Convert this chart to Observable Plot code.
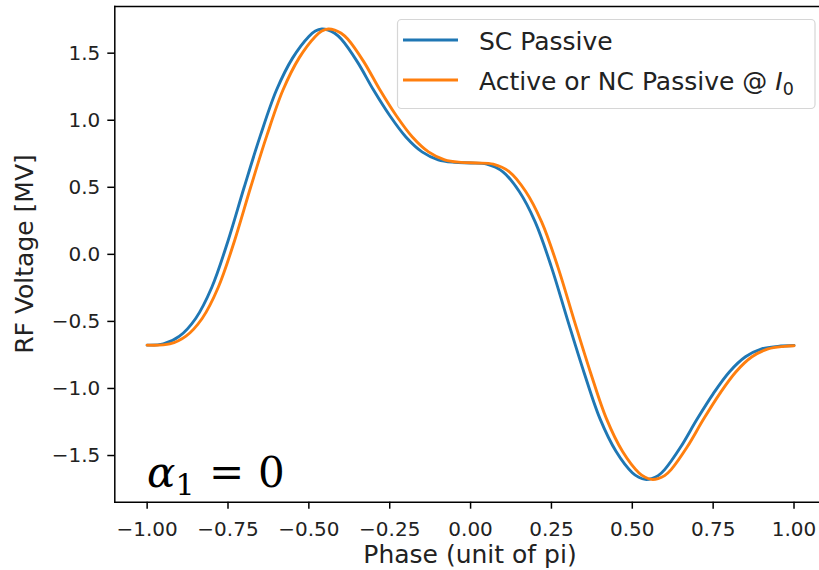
<!DOCTYPE html>
<html>
<head>
<meta charset="utf-8">
<script src="https://cdn.jsdelivr.net/npm/d3@7"></script>
<script src="https://cdn.jsdelivr.net/npm/@observablehq/plot@0.6"></script>
<style>
  html, body { margin: 0; padding: 0; background: #fff; }
  #chart svg { display: block; }
</style>
</head>
<body>
<div id="chart"></div>
<script>
// ---- data ----
const seriesNames = ["SC Passive", "Active or NC Passive @ "];
const seriesColors = ["#1f77b4", "#ff7f0e"];

// SC Passive (blue)
const phaseSC = [-1.00, -0.95, -0.90, -0.85, -0.80, -0.75, -0.70, -0.65, -0.60, -0.55, -0.50, -0.48, -0.46,
                 -0.44, -0.42, -0.40, -0.35, -0.30, -0.25, -0.20, -0.15, -0.10, -0.05, 0.00,
                 0.05, 0.10, 0.15, 0.20, 0.25, 0.30, 0.35, 0.40, 0.45, 0.50, 0.52, 0.54,
                 0.56, 0.58, 0.60, 0.65, 0.70, 0.75, 0.80, 0.85, 0.90, 0.95, 1.00];
const voltSC  = [-0.677, -0.668, -0.610, -0.478, -0.245, 0.100, 0.500, 0.885, 1.225, 1.465, 1.625, 1.665, 1.680,
                 1.672, 1.648, 1.605, 1.435, 1.225, 1.035, 0.875, 0.764, 0.705, 0.686, 0.681,
                 0.672, 0.615, 0.470, 0.240, -0.095, -0.490, -0.875, -1.225, -1.470, -1.628, -1.662, -1.678,
                 -1.672, -1.650, -1.605, -1.435, -1.230, -1.040, -0.877, -0.764, -0.705, -0.686, -0.680];

// Active or NC Passive @ I0 (orange)
const phaseNC = [-1.00, -0.93, -0.88, -0.83, -0.78, -0.73, -0.68, -0.63, -0.58, -0.53, -0.48, -0.46, -0.44,
                 -0.42, -0.40, -0.38, -0.33, -0.28, -0.23, -0.18, -0.13, -0.08, -0.03, 0.02,
                 0.07, 0.12, 0.17, 0.22, 0.27, 0.32, 0.37, 0.42, 0.47, 0.52, 0.54, 0.56,
                 0.58, 0.60, 0.62, 0.67, 0.72, 0.77, 0.82, 0.87, 0.92, 0.97, 1.00];
const voltNC  = [-0.677, -0.668, -0.610, -0.478, -0.245, 0.100, 0.500, 0.885, 1.225, 1.465, 1.625, 1.665, 1.680,
                 1.672, 1.648, 1.605, 1.435, 1.225, 1.035, 0.875, 0.764, 0.705, 0.686, 0.681,
                 0.672, 0.615, 0.470, 0.240, -0.095, -0.490, -0.875, -1.225, -1.470, -1.628, -1.662, -1.678,
                 -1.672, -1.650, -1.605, -1.435, -1.230, -1.040, -0.877, -0.764, -0.705, -0.686, -0.681];

const xTicks = [-1.00, -0.75, -0.50, -0.25, 0.00, 0.25, 0.50, 0.75, 1.00];
const yTicks = [-1.5, -1.0, -0.5, 0.0, 0.5, 1.0, 1.5];
const xLabel = "Phase (unit of pi)";
const yLabel = "RF Voltage [MV]";

// ---- build ----
const rowsSC = phaseSC.map((p, i) => ({phase: p, v: voltSC[i]}));
const rowsNC = phaseNC.map((p, i) => ({phase: p, v: voltNC[i]}));

const W = 819, H = 570;
const mL = 114.3, mT = 6, mB = 68.3, mR = 0;

const chart = Plot.plot({
  width: W, height: H,
  marginLeft: mL, marginRight: mR, marginTop: mT, marginBottom: mB,
  style: {fontFamily: "DejaVu Sans", background: "#fff", color: "#000", overflow: "hidden"},
  x: {domain: [-1.1, 1.0788]},
  y: {domain: [-1.848, 1.848]},
  marks: [
    Plot.line(rowsSC, {x: "phase", y: "v", stroke: seriesColors[0], strokeWidth: 2.9, curve: "catmull-rom"}),
    Plot.line(rowsNC, {x: "phase", y: "v", stroke: seriesColors[1], strokeWidth: 2.9, curve: "catmull-rom"}),
    Plot.frame({anchor: "left", stroke: "#000", strokeWidth: 1.5}),
    Plot.frame({anchor: "bottom", stroke: "#000", strokeWidth: 1.5}),
    Plot.frame({anchor: "top", stroke: "#000", strokeWidth: 1.5}),
    Plot.axisX({ticks: xTicks, tickFormat: d3.format(".2f"), tickSize: 7, tickPadding: 13,
                strokeWidth: 1.5, fontSize: 20, label: null, fill: "#222"}),
    Plot.axisY({ticks: yTicks, tickFormat: d3.format(".1f"), tickSize: 7, tickPadding: 7.5,
                strokeWidth: 1.5, fontSize: 20, label: null, fill: "#222"})
  ]
});

document.getElementById("chart").appendChild(chart);

const svg = d3.select(chart);

// axis titles
svg.append("text")
  .attr("x", 470).attr("y", 563)
  .attr("text-anchor", "middle")
  .attr("font-family", "DejaVu Sans").attr("font-size", 25).attr("fill", "#222")
  .text(xLabel);

svg.append("text")
  .attr("transform", "translate(33,254) rotate(-90)")
  .attr("text-anchor", "middle")
  .attr("font-family", "DejaVu Sans").attr("font-size", 25).attr("fill", "#222")
  .text(yLabel);

// legend
const lg = svg.append("g").attr("text-anchor", "start");
lg.append("rect")
  .attr("x", 397.5).attr("y", 19.5).attr("width", 417.5).attr("height", 89)
  .attr("rx", 4).attr("fill", "#fff").attr("fill-opacity", 0.8)
  .attr("stroke", "#d6d6d6").attr("stroke-width", 1.2);
[0, 1].forEach(i => {
  const cy = 40 + i * 40;
  lg.append("line").attr("x1", 403).attr("x2", 458).attr("y1", cy).attr("y2", cy)
    .attr("stroke", seriesColors[i]).attr("stroke-width", 2.9);
  const t = lg.append("text")
    .attr("x", 479).attr("y", cy + 9.5)
    .attr("text-anchor", "start")
    .attr("font-family", "DejaVu Sans").attr("font-size", 25).attr("fill", "#222");
  t.append("tspan").text(seriesNames[i]);
  if (i === 1) {
    t.append("tspan").attr("font-style", "italic").text("I");
    t.append("tspan").attr("font-size", 17.5).attr("dy", 5).text("0");
  }
});

// annotation alpha_1 = 0
const ann = svg.append("text")
  .attr("x", 147).attr("y", 486.5)
  .attr("text-anchor", "start")
  .attr("font-family", "DejaVu Serif").attr("font-size", 42).attr("fill", "#000");
ann.append("tspan").attr("font-style", "italic").text("α");
ann.append("tspan").attr("font-size", 30).attr("dy", 8).text("1");
ann.append("tspan").attr("x", 209).attr("dy", -8).text("=");
ann.append("tspan").attr("x", 258).text("0");
</script>
</body>
</html>
